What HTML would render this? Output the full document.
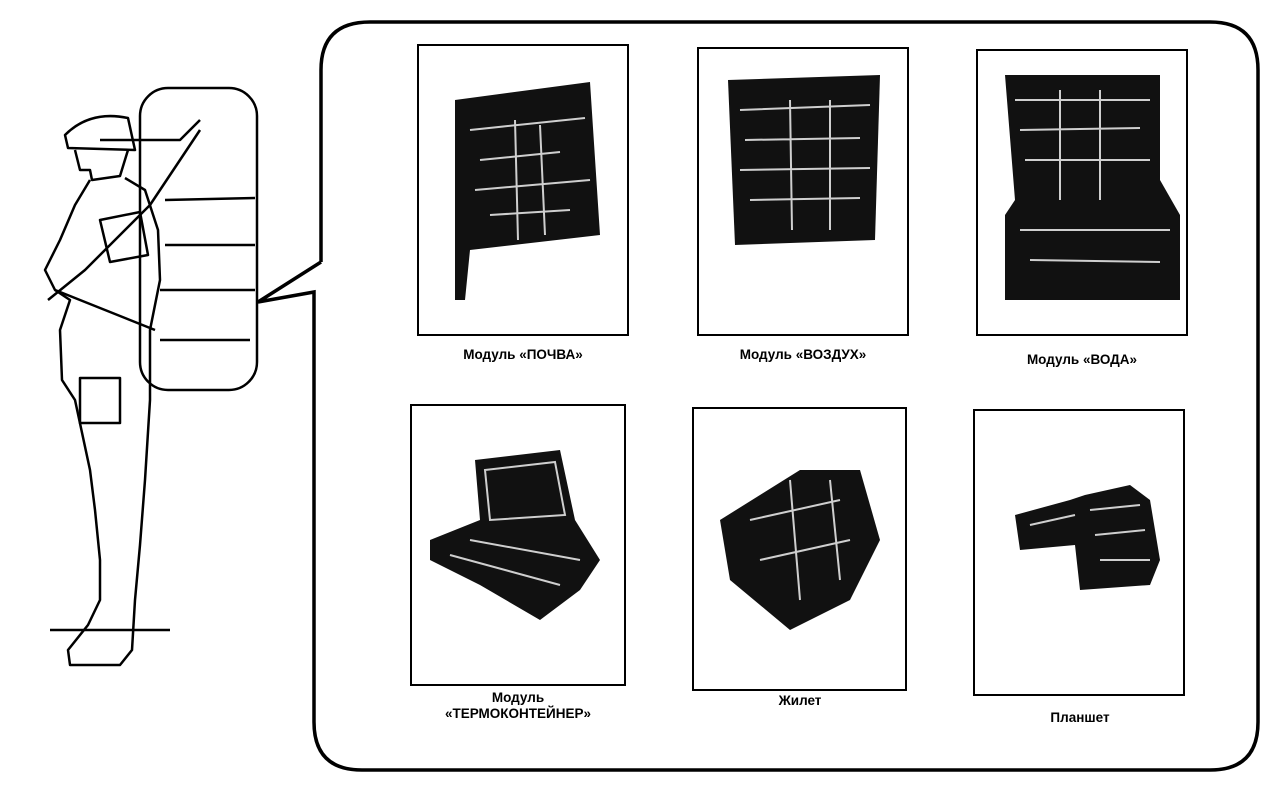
<!DOCTYPE html>
<html><head><meta charset="utf-8"><style>
html,body{margin:0;padding:0;background:#fff;}
svg{display:block}
text{font-family:"Liberation Sans",sans-serif;font-weight:bold;font-size:13.5px;fill:#000}
</style></head><body>
<svg width="1269" height="797" viewBox="0 0 1269 797" xmlns="http://www.w3.org/2000/svg">
<!-- bubble -->
<path d="M321 262 L321 70 Q321 22 370 22 L1210 22 Q1258 22 1258 70 L1258 722 Q1258 770 1210 770 L362 770 Q314 770 314 722 L314 292 L258 302 L321 262" fill="none" stroke="#000" stroke-width="3.5" stroke-linejoin="miter"/>
<!-- frames -->
<g fill="none" stroke="#000" stroke-width="2">
<rect x="418" y="45" width="210" height="290"/>
<rect x="698" y="48" width="210" height="287"/>
<rect x="977" y="50" width="210" height="285"/>
<rect x="411" y="405" width="214" height="280"/>
<rect x="693" y="408" width="213" height="282"/>
<rect x="974" y="410" width="210" height="285"/>
</g>
<!-- images -->
<g fill="#111">
<path d="M455 100 L590 82 L600 235 L470 250 L465 300 L455 300 Z"/>
<path d="M728 80 L880 75 L875 240 L735 245 Z"/>
<path d="M1005 75 L1160 75 L1160 180 L1180 215 L1180 300 L1005 300 L1005 215 L1015 200 Z"/>
<path d="M430 540 L480 520 L475 460 L560 450 L575 520 L600 560 L580 590 L540 620 L480 585 L430 560 Z"/>
<path d="M720 520 L800 470 L860 470 L880 540 L850 600 L790 630 L730 580 Z"/>
<path d="M1015 515 L1070 500 L1085 495 L1130 485 L1150 500 L1160 560 L1150 585 L1080 590 L1075 545 L1020 550 Z"/>
</g>
<g fill="none" stroke="#fff" stroke-width="2" opacity="0.8">
<path d="M470 130 L585 118 M480 160 L560 152 M475 190 L590 180 M490 215 L570 210 M515 120 L518 240 M540 125 L545 235"/>
<path d="M740 110 L870 105 M745 140 L860 138 M740 170 L870 168 M750 200 L860 198 M790 100 L792 230 M830 100 L830 230"/>
<path d="M1015 100 L1150 100 M1020 130 L1140 128 M1025 160 L1150 160 M1020 230 L1170 230 M1030 260 L1160 262 M1060 90 L1060 200 M1100 90 L1100 200"/>
<path d="M485 470 L555 462 L565 515 L490 520 Z M450 555 L560 585 M470 540 L580 560"/>
<path d="M750 520 L840 500 M760 560 L850 540 M790 480 L800 600 M830 480 L840 580"/>
<path d="M1090 510 L1140 505 M1095 535 L1145 530 M1100 560 L1150 560 M1030 525 L1075 515"/>
</g>
<!-- labels -->
<text x="523" y="359" text-anchor="middle">Модуль «ПОЧВА»</text>
<text x="803" y="359" text-anchor="middle">Модуль «ВОЗДУХ»</text>
<text x="1082" y="364" text-anchor="middle">Модуль «ВОДА»</text>
<text x="518" y="702" text-anchor="middle">Модуль</text>
<text x="518" y="718" text-anchor="middle">«ТЕРМОКОНТЕЙНЕР»</text>
<text x="800" y="705" text-anchor="middle">Жилет</text>
<text x="1080" y="722" text-anchor="middle">Планшет</text>
<!-- soldier -->
<g fill="none" stroke="#000" stroke-width="2.5" stroke-linejoin="round">
<rect x="140" y="88" width="117" height="302" rx="28"/>
<path d="M165 200 L255 198 M165 245 L255 245 M160 290 L255 290 M160 340 L250 340"/>
<path d="M65 135 Q90 110 128 118 L135 150 L68 148 Z"/>
<path d="M75 150 L80 170 L90 170 L92 180 L120 176 L128 150"/>
<path d="M90 180 L75 205 L60 240 L45 270 L55 290 L70 300 L60 330 L62 380 L75 400 L90 470 L95 510 L100 560 L100 600 L88 625 L68 650 L70 665 L120 665 L132 650 L135 600 L140 545 L145 480 L150 400 L150 330 L160 280 L158 230 L145 190 L125 178"/>
<path d="M55 290 L155 330"/>
<rect x="80" y="378" width="40" height="45"/>
<path d="M48 300 L85 270 L150 205 L200 130"/>
<path d="M100 140 L180 140 L200 120"/>
<path d="M50 630 L170 630"/>
<path d="M100 220 L140 212 L148 255 L110 262 Z"/>
</g>
</svg>
</body></html>
